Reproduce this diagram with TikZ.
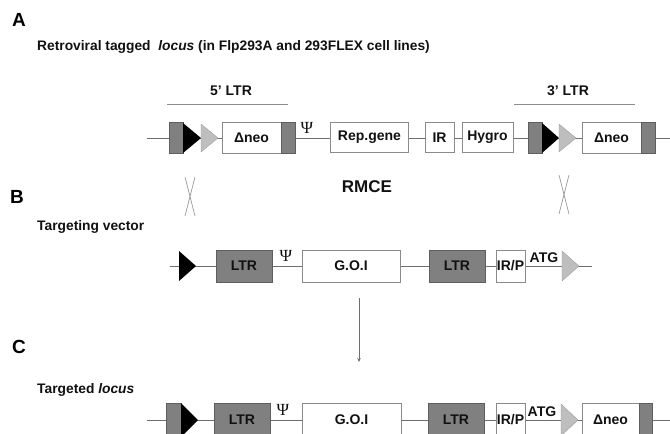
\documentclass[tikz,border=0pt]{standalone}
\usepackage{fontspec}
\setmainfont{Liberation Sans}
\newfontfamily\psifont{Liberation Serif}
\usetikzlibrary{arrows.meta}
\definecolor{linegray}{HTML}{6E6E6E}
\definecolor{boxedge}{HTML}{8A8A8A}
\definecolor{ltrgray}{HTML}{808080}
\definecolor{baredge}{HTML}{5E5E5E}
\definecolor{tri}{HTML}{BEBEBE}
\definecolor{txt}{HTML}{111111}
\begin{document}
\begin{tikzpicture}[x=1pt,y=-1pt,
  backbone/.style={draw=linegray, line width=0.9pt},
  wbox/.style={draw=boxedge, fill=white, line width=0.8pt, inner sep=0pt, text=txt,
    font=\fontsize{14}{16}\selectfont\bfseries},
  dbox/.style={draw=baredge, fill=ltrgray, line width=0.8pt, inner sep=0pt, text=txt,
    font=\fontsize{14}{16}\selectfont\bfseries},
  greybar/.style={draw=baredge, fill=ltrgray, line width=0.8pt, inner sep=0pt, minimum width=14pt},
  blktri/.style={fill=black},
  gtri/.style={fill=tri, draw=tri!80!black, line width=0.3pt},
  panel/.style={font=\fontsize{19}{21}\selectfont\bfseries, text=black, inner sep=0pt},
  hdr/.style={font=\fontsize{13.8}{16}\selectfont\bfseries, text=txt, inner sep=0pt, anchor=west},
  plain/.style={font=\fontsize{14}{16}\selectfont\bfseries, text=txt, inner sep=0pt},
  psi/.style={font=\psifont\fontsize{17}{19}\selectfont, text=txt, inner sep=0pt},
  cross/.style={draw=gray!80, line width=0.7pt},
  bracket/.style={draw=gray!90, line width=0.9pt}
]
\useasboundingbox (0,0) rectangle (670,434);
\clip (0,0) rectangle (670,434);

% ---------- Panel A ----------
\node[panel] (labA) at (19,20) {A};
\node[hdr] (hA) at (37,47) {Retroviral tagged\ \ \textit{locus} (in Flp293A and 293FLEX cell lines)};

\coordinate (b5a) at (167,104); \coordinate (b5b) at (288,104);
\draw[bracket] (b5a) -- (b5b);
\node[plain] (l5) at (231,91) {5' LTR};
\coordinate (b3a) at (514,104); \coordinate (b3b) at (635,104);
\draw[bracket] (b3a) -- (b3b);
\node[plain] (l3) at (568,91) {3' LTR};

\coordinate (A0) at (147,138); \coordinate (A1) at (670,138);
\draw[backbone] (A0) -- (A1);
\node[greybar, minimum height=31pt] (a1) at (176,137.5) {};
\fill[blktri] (183,123) -- (201,138) -- (183,153) -- cycle;
\filldraw[gtri] (201,124) -- (218,138) -- (201,152) -- cycle;
\node[wbox, minimum width=59pt, minimum height=31pt] (aneo1) at (251.5,137.5) {Δneo};
\node[greybar, minimum height=31pt] (a2) at (288,137.5) {};
\node[psi] (apsi) at (307,128) {Ψ};
\node[wbox, minimum width=78pt, minimum height=30pt] (arep) at (369.5,137.5) {Rep.gene};
\node[wbox, minimum width=29pt, minimum height=30pt] (air) at (439.5,137.5) {IR};
\node[wbox, minimum width=51pt, minimum height=30pt] (ahyg) at (487.5,137.5) {Hygro};
\node[greybar, minimum height=31pt] (a3) at (535,137.5) {};
\fill[blktri] (542,123) -- (559,138) -- (542,153) -- cycle;
\filldraw[gtri] (559,124) -- (576,138) -- (559,152) -- cycle;
\node[wbox, minimum width=59pt, minimum height=31pt] (aneo2) at (611.5,137.5) {Δneo};
\node[greybar, minimum height=31pt] (a4) at (648.5,137.5) {};

% ---------- crossover marks + RMCE ----------
\coordinate (x1a) at (185,177); \coordinate (x1b) at (195,216);
\coordinate (x1c) at (195,177); \coordinate (x1d) at (185,216);
\draw[cross] (x1a) -- (x1b); \draw[cross] (x1c) -- (x1d);
\coordinate (x2a) at (559,175); \coordinate (x2b) at (569,214);
\coordinate (x2c) at (569,175); \coordinate (x2d) at (559,214);
\draw[cross] (x2a) -- (x2b); \draw[cross] (x2c) -- (x2d);
\node[font=\fontsize{17}{19}\selectfont\bfseries, text=txt, inner sep=0pt] (rmce) at (367,187) {RMCE};

% ---------- Panel B ----------
\node[panel] (labB) at (17,197) {B};
\node[hdr] (hB) at (37,227) {Targeting vector};

\coordinate (B0) at (170,266); \coordinate (B1) at (592,266);
\draw[backbone] (B0) -- (B1);
\fill[blktri] (179,251) -- (196,266) -- (179,281) -- cycle;
\node[dbox, minimum width=56pt, minimum height=32pt] (bltr1) at (244,266) {LTR};
\node[psi] (bpsi) at (286,256) {Ψ};
\node[wbox, minimum width=98pt, minimum height=32pt] (bgoi) at (351,266) {G.O.I};
\node[dbox, minimum width=56pt, minimum height=32pt] (bltr2) at (457,266) {LTR};
\node[wbox, minimum width=29pt, minimum height=32pt] (birp) at (510.5,266) {IR/P};
\node[plain] (batg) at (544,257.5) {ATG};
\filldraw[gtri] (562,251) -- (579,266) -- (562,281) -- cycle;

% ---------- arrow ----------
\coordinate (ar0) at (359,298); \coordinate (ar1) at (359,362);
\draw[draw=linegray, line width=0.7pt, -{Stealth[length=4pt,width=3.5pt]}] (ar0) -- (ar1);

% ---------- Panel C ----------
\node[panel] (labC) at (19,347) {C};
\node[hdr] (hC) at (37,390) {Targeted \textit{locus}};

\coordinate (C0) at (147,420); \coordinate (C1) at (670,420);
\draw[backbone] (C0) -- (C1);
\node[greybar, minimum width=15pt, minimum height=34pt] (c1) at (173.5,420) {};
\fill[blktri] (181,403) -- (198,420) -- (181,437) -- cycle;
\node[dbox, minimum width=56pt, minimum height=34pt] (cltr1) at (242,420) {LTR};
\node[psi] (cpsi) at (283,410) {Ψ};
\node[wbox, minimum width=99pt, minimum height=34pt] (cgoi) at (351.5,420) {G.O.I};
\node[dbox, minimum width=56pt, minimum height=34pt] (cltr2) at (456,420) {LTR};
\node[wbox, minimum width=29pt, minimum height=34pt] (cirp) at (510.5,420) {IR/P};
\node[plain] (catg) at (542,412) {ATG};
\filldraw[gtri] (561,404) -- (578,420) -- (561,436) -- cycle;
\node[wbox, minimum width=57pt, minimum height=34pt] (cneo) at (610.5,420) {Δneo};
\node[greybar, minimum width=13pt, minimum height=34pt] (c2) at (645.5,420) {};
\end{tikzpicture}
\end{document}
